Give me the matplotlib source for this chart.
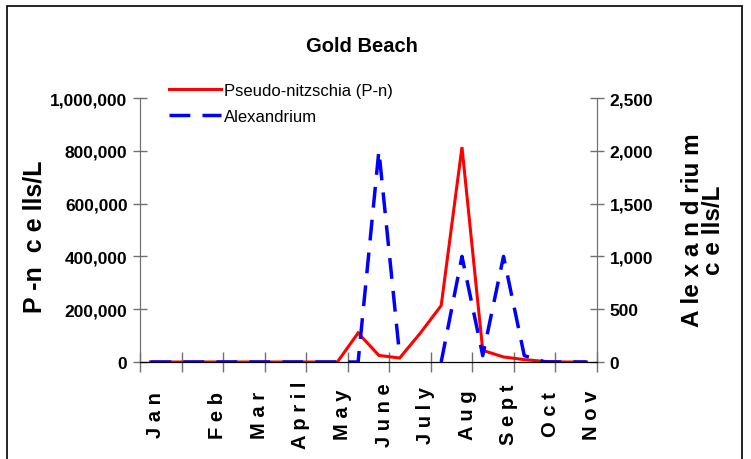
import numpy as np
import matplotlib
matplotlib.use("Agg")
import matplotlib.pyplot as plt
from matplotlib.patches import Rectangle

plt.rcParams["font.family"] = ["Liberation Sans Narrow", "Liberation Sans", "DejaVu Sans"]

# sample index (22 sampling dates), month labels on some of them
n_samples = 22
month_labels = ["J a n", "F e b", "M a r", "A p r i l", "M a y", "J u n e",
                "J u l y", "A u g", "S e p t", "O c t", "N o v"]
month_index = [0, 3, 5, 7, 9, 11, 13, 15, 17, 19, 21]

# Pseudo-nitzschia cells/L (left axis)
pn_cells = [0, 0, 0, 0, 0, 0, 0, 0, 0, 0, 110000, 25000, 15000, 110000,
            214000, 814000, 44000, 19000, 9000, 2000, 0, 0]
# Alexandrium cells/L (right axis), nan = no sample
alex_cells = [0, 0, 0, 0, 0, 0, 0, 0, 0, 0, 0, 2000, 60, np.nan,
              0, 1000, 60, 1000, 60, 0, 0, 0]

left_ticks = [0, 200000, 400000, 600000, 800000, 1000000]
right_ticks = [0, 500, 1000, 1500, 2000, 2500]

W, H = 751, 460
fig = plt.figure(figsize=(W / 100, H / 100), dpi=100)
ax = fig.add_axes([140 / W, 1 - 363 / H, (597 - 140) / W, (363 - 99) / H])
ax2 = ax.twinx()

x = np.arange(n_samples)
red_line, = ax.plot(x, pn_cells, color="#ff0000", lw=2.2, solid_joinstyle="miter")
blue_line, = ax2.plot(x, alex_cells, color="#0000ff", lw=2.5, dashes=(6, 3.5))

ax.set_xlim(-0.5, n_samples - 0.5)
ax.set_ylim(0, 1000000)
ax2.set_ylim(0, 2500)

# ticks at category boundaries, every second sample
ax.set_xticks(np.arange(-0.5, n_samples, 2))
ax.set_xticklabels([])
ax.set_yticks(left_ticks)
ax.set_yticklabels([f"{v:,}" for v in left_ticks], fontsize=12.5, fontweight="bold")
ax2.set_yticks(right_ticks)
ax2.set_yticklabels([f"{v:,}" for v in right_ticks], fontsize=12.5, fontweight="bold")

for a in (ax, ax2):
    a.spines["top"].set_visible(False)
    a.spines["left"].set_color("#707070")
    a.spines["right"].set_color("#707070")
    a.tick_params(direction="inout", length=10, width=1, color="#707070", pad=4)
ax.spines["bottom"].set_color("black")
ax.tick_params(axis="x", direction="inout", length=14)

# month labels
for i, lab in zip(month_index, month_labels):
    ax.text(i + 0.25, -0.197, lab, transform=ax.get_xaxis_transform(),
            rotation=90, ha="center", va="center", fontsize=14.5, fontweight="bold")

fig.text(362 / W, 1 - 46 / H, "Gold Beach", ha="center", va="center",
         fontsize=14.5, fontweight="bold")
fig.text(35 / W, 1 - 237 / H, "P -n  c e lls/L", rotation=90,
         ha="center", va="center", fontsize=18, fontweight="bold")
fig.text(703 / W, 1 - 230 / H, "A le x a n d riu m\nc e lls/L", rotation=90,
         ha="center", va="center", fontsize=17.5, fontweight="bold", linespacing=0.85)

fig.legend([red_line, blue_line], ["Pseudo-nitzschia (P-n)", "Alexandrium"],
           loc="upper left", bbox_to_anchor=(169 / W, 1 - 84 / H), frameon=False,
           fontsize=12, handlelength=3.1, labelspacing=0.65, handletextpad=0.2,
           borderaxespad=0, borderpad=0)

# outer chart frame
fig.patches.append(Rectangle((7 / W, -0.05), (742 - 7) / W, 1 - 7 / H + 0.05,
                             transform=fig.transFigure, fill=False, lw=1.2,
                             edgecolor="black"))

fig.savefig("out.png", dpi=100)
